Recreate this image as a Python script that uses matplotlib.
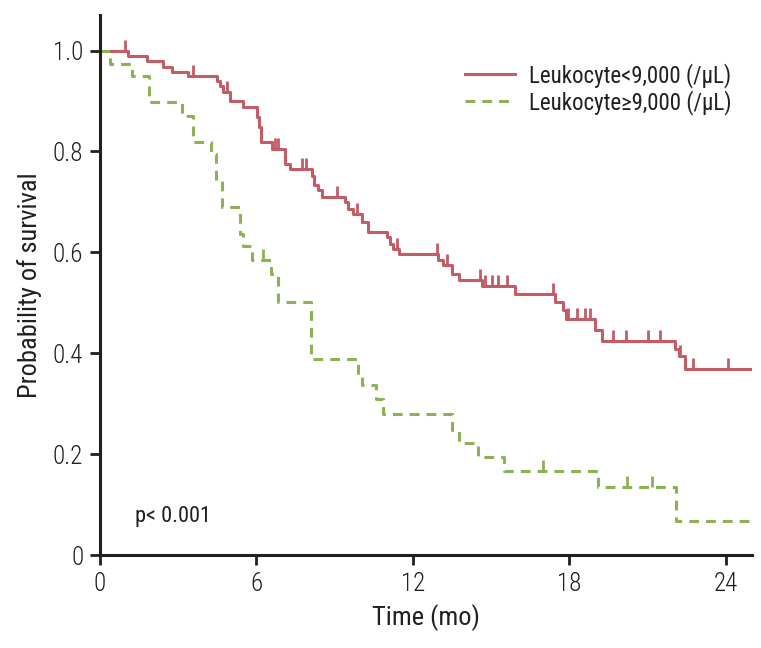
import numpy as np
import matplotlib
matplotlib.use("Agg")
import matplotlib.pyplot as plt

plt.rcParams['font.family'] = ['Roboto Condensed', 'Roboto', 'DejaVu Sans']

# Leukocyte < 9,000 group (step times, survival after step)
low_times = [0, 1.09, 1.79, 2.4, 2.77, 3.39, 4.47, 4.6, 4.7, 4.98, 5.5, 6.03, 6.1, 6.16,
             6.58, 7.09, 7.29, 8.12, 8.2, 8.37, 8.5, 9.39, 9.52, 9.71, 10.03, 10.29,
             11.02, 11.12, 11.25, 11.48, 12.97, 13.14, 13.48, 13.78, 14.63, 15.91,
             17.45, 17.77, 17.85, 18.98, 19.24, 22.05, 22.2, 22.43]
low_surv = [1.0, 0.99, 0.979, 0.968, 0.957, 0.95, 0.94, 0.93, 0.917, 0.899, 0.889, 0.868,
            0.848, 0.818, 0.805, 0.776, 0.766, 0.752, 0.733, 0.723, 0.71, 0.70, 0.686,
            0.676, 0.66, 0.641, 0.63, 0.617, 0.607, 0.596, 0.585, 0.574, 0.558, 0.545,
            0.533, 0.518, 0.502, 0.485, 0.467, 0.446, 0.424, 0.409, 0.394, 0.368]
low_censor = [0.96, 3.55, 4.88, 6.71, 6.84, 7.73, 7.89, 9.07, 9.87, 11.37, 12.91, 13.29,
              14.57, 14.76, 15.02, 15.27, 15.59, 17.38, 17.96, 18.28, 18.6, 18.79, 19.68,
              20.17, 21.03, 21.47, 22.24, 22.72, 24.09]

# Leukocyte >= 9,000 group
high_times = [0, 0.38, 1.21, 1.89, 3.13, 3.55, 4.26, 4.45, 4.66, 5.37, 5.5, 5.82, 6.55,
              6.84, 8.09, 9.9, 10.03, 10.6, 10.86, 13.48, 13.77, 14.5, 15.49, 19.08, 22.07]
high_surv = [1.0, 0.974, 0.949, 0.898, 0.871, 0.818, 0.794, 0.742, 0.69, 0.637, 0.612,
             0.585, 0.558, 0.502, 0.388, 0.36, 0.337, 0.31, 0.279, 0.248, 0.223, 0.195,
             0.167, 0.134, 0.067]
high_censor = [6.26, 16.97, 20.19, 21.15]

t_end = 25
red = '#c45c66'
green = '#8db255'
ink = '#231f20'


def surv_at(times, surv, t):
    idx = np.searchsorted(times, t, side='right') - 1
    return np.array(surv)[idx]


fig = plt.figure(figsize=(7.61, 6.48), dpi=100)
ax = fig.add_axes([0.1314, 0.1435, 0.8568, 0.833])

ax.step(low_times + [t_end], low_surv + [low_surv[-1]], where='post', color=red, lw=2.2,
        label='Leukocyte<9,000 (/\u03bcL)')
ax.plot(low_censor, surv_at(low_times, low_surv, low_censor), ls='none', marker=2,
        ms=8, mew=2.0, color=red)

ax.step(high_times + [t_end], high_surv + [high_surv[-1]], where='post', color=green, lw=2.2,
        ls=(0, (3.2, 2.3)), label='Leukocyte\u22659,000 (/\u03bcL)')
ax.plot(high_censor, surv_at(high_times, high_surv, high_censor), ls='none', marker=2,
        ms=8, mew=2.0, color=green)

ax.set_xlim(0, t_end)
ax.set_ylim(0, 1.07)
ax.set_xticks([0, 6, 12, 18, 24])
ax.set_yticks([0, 0.2, 0.4, 0.6, 0.8, 1.0])
ax.set_yticklabels(['0', '0.2', '0.4', '0.6', '0.8', '1.0'])
ax.tick_params(direction='out', length=7, width=2, labelsize=18, color=ink,
               labelcolor=ink, pad=5)
for lab in ax.get_xticklabels() + ax.get_yticklabels():
    lab.set_fontweight('light')
for s in ['top', 'right']:
    ax.spines[s].set_visible(False)
for s in ['left', 'bottom']:
    ax.spines[s].set_linewidth(2.2)
    ax.spines[s].set_color(ink)

ax.set_xlabel('Time (mo)', fontsize=19, labelpad=6, color=ink)
ax.set_ylabel('Probability of survival', fontsize=19, labelpad=8, color=ink)

ax.text(1.34, 0.055, 'p< 0.001', fontsize=16, ha='left', va='bottom', color=ink)

ax.legend(loc='upper right', bbox_to_anchor=(1.0, 0.95), frameon=False, fontsize=16.5,
          handlelength=2.2, handletextpad=0.6, labelspacing=0.1, labelcolor=ink)

fig.savefig('out.png', dpi=100)
